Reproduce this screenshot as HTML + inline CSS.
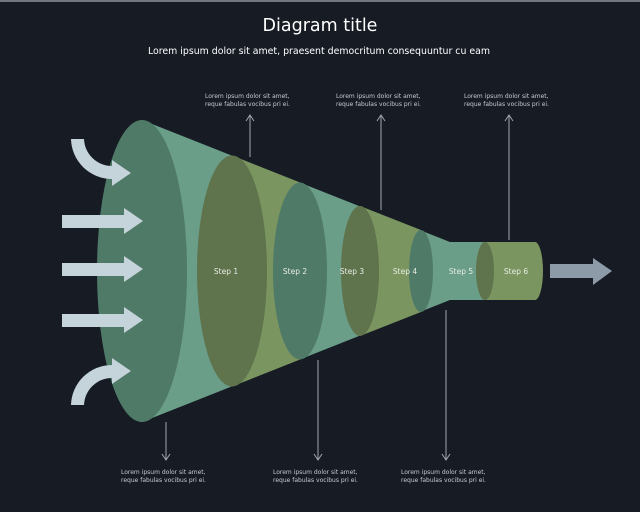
<!DOCTYPE html>
<html><head><style>
body{margin:0;background:#161b24;}
svg{display:block;}
text{font-family:"DejaVu Sans","Liberation Sans",sans-serif;}
</style></head><body>
<svg width="640" height="512" viewBox="0 0 640 512">
<rect width="640" height="512" fill="#161b24"/>
<line x1="0" y1="1" x2="640" y2="1" stroke="#cfd6dc" stroke-width="1"/>
<text x="320" y="31" font-size="17.5" fill="#ffffff" text-anchor="middle">Diagram title</text>
<text x="319" y="54" font-size="9.4" fill="#ffffff" text-anchor="middle">Lorem ipsum dolor sit amet, praesent democritum consequuntur cu eam</text>
<g font-size="6" fill="#c4ccd4">
<text x="205" y="98">Lorem ipsum dolor sit amet,</text><text x="205" y="106">reque fabulas vocibus pri ei.</text>
<text x="336" y="98">Lorem ipsum dolor sit amet,</text><text x="336" y="106">reque fabulas vocibus pri ei.</text>
<text x="464" y="98">Lorem ipsum dolor sit amet,</text><text x="464" y="106">reque fabulas vocibus pri ei.</text>
<text x="121" y="474">Lorem ipsum dolor sit amet,</text><text x="121" y="482">reque fabulas vocibus pri ei.</text>
<text x="273" y="474">Lorem ipsum dolor sit amet,</text><text x="273" y="482">reque fabulas vocibus pri ei.</text>
<text x="401" y="474">Lorem ipsum dolor sit amet,</text><text x="401" y="482">reque fabulas vocibus pri ei.</text>
</g>
<g stroke="#a0a8b0" stroke-width="1" fill="none">
<path d="M250 157V115M246 121L250 115L254 121"/>
<path d="M381 210V115M377 121L381 115L385 121"/>
<path d="M509 240V115M505 121L509 115L513 121"/>
<path d="M166 422V460M162 454L166 460L170 454"/>
<path d="M318 360V460M314 454L318 460L322 454"/>
<path d="M446 310V460M442 454L446 460L450 454"/>
</g>
<polygon points="142,120 450,242 450,300 142,422" fill="#6a9e88"/>
<rect x="450" y="242" width="35" height="58" fill="#6a9e88"/>
<polygon points="232,155.5 300,182.5 300,359.5 232,386.5" fill="#7a9560"/>
<polygon points="360,206 421,230 421,312 360,336" fill="#7a9560"/>
<path d="M485 242H535A8 29 0 0 1 535 300H485Z" fill="#7a9560"/>
<ellipse cx="485" cy="271" rx="9" ry="29" fill="#5f734c"/>
<ellipse cx="142" cy="271" rx="45" ry="151" fill="#4f7a68"/>
<ellipse cx="232" cy="271" rx="35" ry="115.5" fill="#5f734c"/>
<ellipse cx="300" cy="271" rx="27" ry="88.5" fill="#4f7a68"/>
<ellipse cx="360" cy="271" rx="19" ry="65" fill="#5f734c"/>
<ellipse cx="421" cy="271" rx="12" ry="41" fill="#4f7a68"/>
<g font-size="7.5" fill="#e8ece4" text-anchor="middle">
<text x="226" y="274">Step 1</text><text x="295" y="274">Step 2</text><text x="352" y="274">Step 3</text>
<text x="405" y="274">Step 4</text><text x="461" y="274">Step 5</text><text x="516" y="274">Step 6</text>
</g>
<g fill="#c5d3da">
<polygon points="62,215 124,215 124,208 143,221 124,234 124,228 62,228"/>
<polygon points="62,263 124,263 124,256 143,269 124,282 124,276 62,276"/>
<polygon points="62,314 124,314 124,307 143,320 124,333 124,327 62,327"/>
<path d="M71 139H84A28 28 0 0 0 112 166V160L131 173L112 186V179A41 41 0 0 1 71 139Z"/>
<path d="M71 405H84A28 28 0 0 1 112 378V384L131 371L112 358V365A41 41 0 0 0 71 405Z"/>
</g>
<polygon points="550,264 593,264 593,258 612,271 593,285 593,278 550,278" fill="#8d9aa8"/>
</svg>
</body></html>
